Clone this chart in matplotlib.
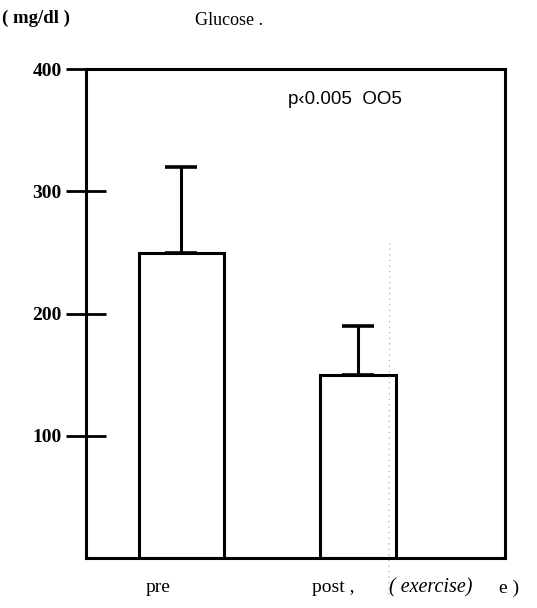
import numpy as np
import matplotlib.pyplot as plt

# glucose before / after exercise (mg/dl), mean and SD
groups = ['pre', 'post']
means = [250, 150]
sds = [70, 40]
yticks = [100, 200, 300, 400]

serif = ['Liberation Serif', 'DejaVu Serif']

fig = plt.figure(figsize=(5.37, 6.08), dpi=100)
ax = fig.add_axes([0.160, 0.0822, 0.780, 0.804])

x = np.arange(len(groups))
ax.bar(x, means, width=[0.48, 0.43], color='white', edgecolor='black', linewidth=2.2, zorder=2)
ax.errorbar(x, means, yerr=[np.zeros(len(sds)), sds], fmt='none', ecolor='black',
            elinewidth=2.2, capsize=11.5, capthick=2.6, zorder=3)

ax.set_xlim(-0.541, 1.833)
ax.set_ylim(0, 400)
ax.set_yticks(yticks)
ax.set_yticklabels([str(t) for t in yticks], family=serif, fontsize=14, fontweight='bold')
ax.tick_params(axis='y', direction='inout', length=29, width=2, pad=3)
ax.set_xticks([])
for s in ax.spines.values():
    s.set_linewidth(2.2)

# labels around the frame
fig.text(0.004, 0.970, '( mg/dl )', family=serif, fontsize=13.5, fontweight='bold', va='center')
fig.text(0.363, 0.967, 'Glucose .', family=serif, fontsize=13, va='center')
fig.text(0.536, 0.836, 'p\u20390.005  OO5', family=['Liberation Sans', 'DejaVu Sans'],
         fontsize=13.5, va='center')

# group names under the bars, slightly left of centre
fig.text(0.294, 0.033, groups[0], family=serif, fontsize=14, ha='center', va='center')
fig.text(0.620, 0.033, groups[1] + ' ,', family=serif, fontsize=14, ha='center', va='center')
fig.text(0.724, 0.033, '( exercise)', family=serif, fontsize=14.5, style='italic', va='center')
fig.text(0.930, 0.033, 'e )', family=serif, fontsize=14, va='center')

# faint dotted scan streak
fig.lines.append(plt.Line2D([0.726, 0.724], [0.60, 0.02], transform=fig.transFigure,
                            color='0.6', linewidth=0.8, linestyle=(0, (1, 4))))

fig.savefig('out.png', dpi=100)
